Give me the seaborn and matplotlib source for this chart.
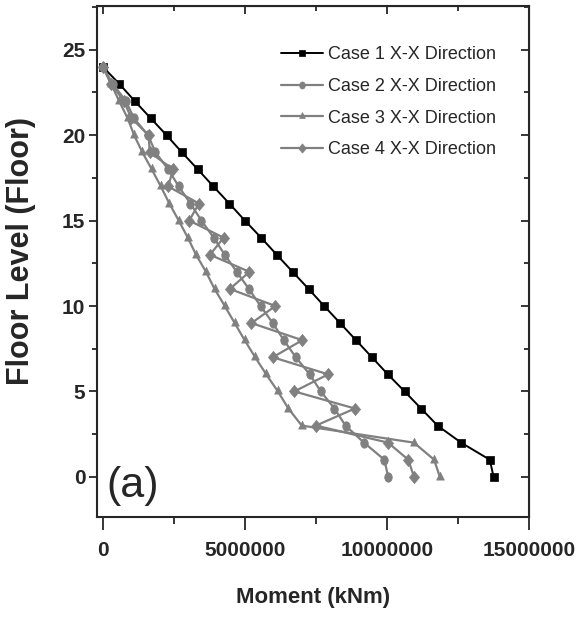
import numpy as np
import pandas as pd
import seaborn as sns
import matplotlib.pyplot as plt
from matplotlib.ticker import MultipleLocator
from matplotlib.path import Path
from matplotlib.transforms import Affine2D

# floors 24 -> 0 and bending moment (kNm)
floors = [24, 23, 22, 21, 20, 19, 18, 17, 16, 15, 14, 13, 12,
          11, 10, 9, 8, 7, 6, 5, 4, 3, 2, 1, 0]
case1 = [0, 0.58e6, 1.12e6, 1.68e6, 2.24e6, 2.78e6, 3.34e6, 3.89e6, 4.45e6,
         5.0e6, 5.57e6, 6.12e6, 6.68e6, 7.24e6, 7.79e6, 8.35e6, 8.91e6,
         9.47e6, 10.03e6, 10.62e6, 11.2e6, 11.78e6, 12.61e6, 13.62e6, 13.75e6]
case2 = [0, 0.35e6, 0.81e6, 1.09e6, 1.59e6, 1.85e6, 2.3e6, 2.67e6, 3.08e6,
         3.47e6, 3.9e6, 4.29e6, 4.71e6, 5.14e6, 5.55e6, 5.98e6, 6.37e6,
         6.79e6, 7.28e6, 7.67e6, 8.15e6, 8.54e6, 9.19e6, 9.91e6, 10.04e6]
case3 = [0, 0.29e6, 0.57e6, 0.87e6, 1.1e6, 1.39e6, 1.72e6, 2.04e6, 2.34e6,
         2.67e6, 2.99e6, 3.28e6, 3.63e6, 3.93e6, 4.29e6, 4.64e6, 4.99e6,
         5.36e6, 5.75e6, 6.16e6, 6.53e6, 7.0e6, 10.95e6, 11.66e6, 11.86e6]
case4 = [0, 0.29e6, 0.74e6, 1.0e6, 1.61e6, 1.65e6, 2.47e6, 2.3e6, 3.38e6,
         3.04e6, 4.25e6, 3.77e6, 5.16e6, 4.47e6, 6.07e6, 5.23e6, 7.02e6,
         5.98e6, 7.93e6, 6.74e6, 8.87e6, 7.5e6, 10.04e6, 10.75e6, 10.95e6]

labels = ["Case 1 X-X Direction", "Case 2 X-X Direction",
          "Case 3 X-X Direction", "Case 4 X-X Direction"]
series = [case1, case2, case3, case4]

# the source picture is a bit stretched vertically, so markers are slightly tall
def tall(path, sx):
    return path.transformed(Affine2D().scale(sx, 1.0))

sq = tall(Path.unit_rectangle().transformed(Affine2D().translate(-0.5, -0.5)), 0.88)
circ = tall(Path.unit_circle(), 0.8)
tri = tall(Path.unit_regular_polygon(3), 0.85)
dia = tall(Path.unit_regular_polygon(4), 0.83)

styles = [("black", sq, 6, 1.4), ("#808080", circ, 6.8, 1.6),
          ("#808080", tri, 7.5, 1.6), ("#808080", dia, 8.8, 1.6)]

sns.set_style("ticks")
plt.rcParams['font.family'] = ['Liberation Sans', 'DejaVu Sans']

fig = plt.figure(figsize=(5.82, 6.21), dpi=100)
ax = fig.add_axes([0.167, 0.1675, 0.742, 0.8225])

for vals, lab, (col, mk, ms, lw) in zip(series, labels, styles):
    df = pd.DataFrame({"moment": vals, "floor": floors})
    sns.lineplot(data=df, x="moment", y="floor", sort=False, estimator=None,
                 color=col, marker=mk, markersize=ms, markeredgecolor=col,
                 markeredgewidth=0.5, linewidth=lw, label=lab, ax=ax)

ax.set_xlim(-0.2e6, 15e6)
ax.set_ylim(-2.35, 27.55)
ax.xaxis.set_major_locator(MultipleLocator(5e6))
ax.xaxis.set_minor_locator(MultipleLocator(2.5e6))
ax.yaxis.set_major_locator(MultipleLocator(5))
ax.yaxis.set_minor_locator(MultipleLocator(2.5))
ax.ticklabel_format(style='plain', axis='x')
ax.tick_params(which='both', direction='out', width=1.3, top=False, right=False)
ax.tick_params(axis='x', which='major', length=9, pad=8, labelsize=15)
ax.tick_params(axis='x', which='minor', length=5)
ax.tick_params(axis='y', which='major', length=6, pad=2.5, labelsize=15)
ax.tick_params(axis='y', which='minor', length=3.5)
for s in ax.spines.values():
    s.set_linewidth(1.5)

# mirrored ticks pointing inward on the top and right
top = ax.secondary_xaxis('top')
right = ax.secondary_yaxis('right')
top.xaxis.set_major_locator(MultipleLocator(5e6))
top.xaxis.set_minor_locator(MultipleLocator(2.5e6))
right.yaxis.set_major_locator(MultipleLocator(5))
right.yaxis.set_minor_locator(MultipleLocator(2.5))
for sec in (top, right):
    sec.tick_params(which='both', direction='in', width=1.3, labelsize=0)
    sec.tick_params(which='major', length=6)
    sec.tick_params(which='minor', length=3.5)
top.set_xticklabels([])
right.set_yticklabels([])

ax.set_xlabel("Moment (kNm)", fontsize=16, fontweight='bold', labelpad=20)
ax.set_ylabel("Floor Level (Floor)", fontsize=22, fontweight='bold', labelpad=19)
ax.yaxis.label.set_y(0.52)

ax.text(0.022, 0.039, "(a)", transform=ax.transAxes, fontsize=31,
        ha='left', va='baseline')

leg = ax.legend(loc='upper right', frameon=False, fontsize=13,
                handlelength=2.3, handletextpad=0.29, labelspacing=0.81,
                borderpad=0.4, markerscale=0.75, bbox_to_anchor=(0.961, 0.953))

fig.canvas.draw()
for t in ax.get_xticklabels() + ax.get_yticklabels():
    t.set_fontweight('bold')

fig.savefig("out.png", dpi=100)
